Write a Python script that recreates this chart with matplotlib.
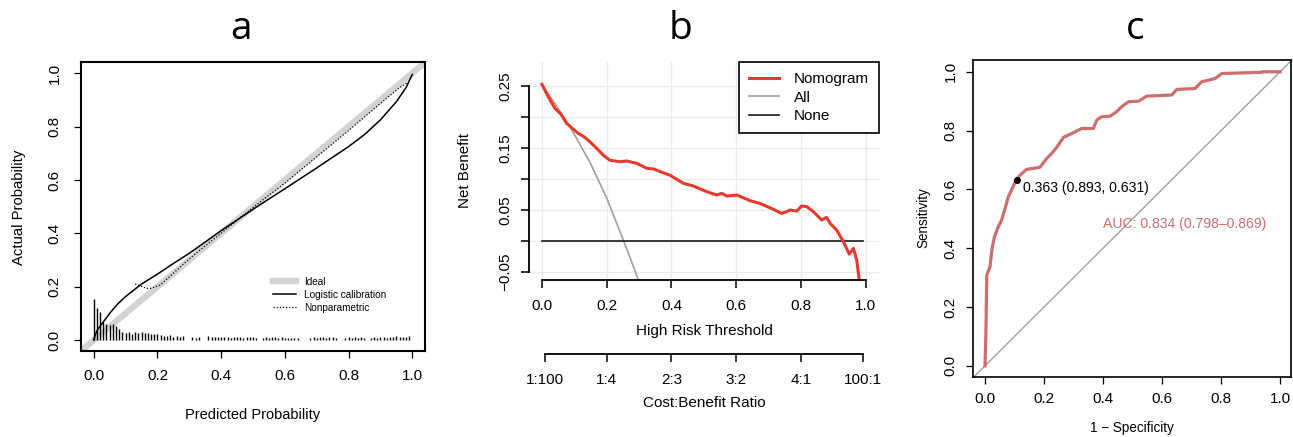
import matplotlib
matplotlib.use('Agg')
import matplotlib.pyplot as plt

### data
# a: calibration
logit_x = [0.0, 0.005, 0.01, 0.025, 0.05, 0.075, 0.1, 0.15, 0.2, 0.25, 0.3, 0.4, 0.5,
           0.6, 0.7, 0.8, 0.85, 0.9, 0.95, 0.98, 1.0]
logit_y = [0.0, 0.02, 0.035, 0.06, 0.1, 0.135, 0.163, 0.21, 0.247, 0.287, 0.325, 0.41, 0.49,
           0.567, 0.645, 0.725, 0.77, 0.825, 0.893, 0.945, 0.995]
nonpar_x = [0.13, 0.14, 0.166, 0.18, 0.208, 0.25, 0.29, 0.333, 0.386, 0.438, 0.5, 0.542,
            0.6, 0.699, 0.798, 0.898, 0.96, 0.986]
nonpar_y = [0.21, 0.206, 0.194, 0.194, 0.206, 0.25, 0.294, 0.337, 0.387, 0.437, 0.497, 0.536,
            0.588, 0.686, 0.783, 0.885, 0.946, 0.965]
hist_x = [i / 100 for i in range(100)]
hist_h = [0.153, 0.119, 0.106, 0.066, 0.059, 0.056, 0.059, 0.054, 0.041, 0.031,
          0.025, 0.031, 0.022, 0.031, 0.025, 0.031, 0.027, 0.025, 0.022, 0.022,
          0.022, 0.019, 0.017, 0.015, 0.019, 0.012, 0.015, 0.012, 0.015, 0.0,
          0.0, 0.010, 0.008, 0.010, 0.0, 0.0, 0.015, 0.012, 0.012, 0.010,
          0.012, 0.010, 0.012, 0.008, 0.010, 0.012, 0.010, 0.008, 0.010, 0.010,
          0.010, 0.008, 0.0, 0.008, 0.010, 0.008, 0.010, 0.012, 0.008, 0.010,
          0.008, 0.008, 0.006, 0.008, 0.006, 0.0, 0.0, 0.0, 0.008, 0.010,
          0.008, 0.012, 0.010, 0.008, 0.012, 0.010, 0.008, 0.0, 0.0, 0.008,
          0.010, 0.008, 0.012, 0.008, 0.010, 0.008, 0.0, 0.008, 0.010, 0.008,
          0.012, 0.010, 0.008, 0.012, 0.010, 0.015, 0.012, 0.012, 0.010, 0.015]

# b: decision curve
thr = [0.0, 0.02, 0.04, 0.058, 0.076, 0.095, 0.112, 0.13, 0.148, 0.168, 0.189, 0.21, 0.241,
       0.262, 0.293, 0.324, 0.345, 0.365, 0.395, 0.437, 0.468, 0.509, 0.540, 0.555, 0.571,
       0.602, 0.643, 0.673, 0.715, 0.740, 0.756, 0.766, 0.787, 0.802, 0.818, 0.838, 0.864,
       0.879, 0.89, 0.910, 0.931, 0.949, 0.962, 0.972, 0.980]
nb_nomo = [0.2527, 0.232, 0.214, 0.205, 0.190, 0.181, 0.1736, 0.168, 0.160, 0.150, 0.1385,
           0.130, 0.1277, 0.1288, 0.1251, 0.117, 0.116, 0.1117, 0.106, 0.0928, 0.0884, 0.0793,
           0.0739, 0.0766, 0.0723, 0.0739, 0.0647, 0.0604, 0.0507, 0.0443, 0.047, 0.0497,
           0.048, 0.0562, 0.0551, 0.047, 0.0335, 0.0379, 0.0282, 0.0174, -0.0015, -0.0215,
           -0.0123, -0.031, -0.063]
thr_all = [0.0, 0.05, 0.1, 0.15, 0.2, 0.25, 0.3]
nb_all = [0.253, 0.214, 0.172, 0.125, 0.069, 0.003, -0.066]
thr_none = [0.0, 0.99]
nb_none = [0.0, 0.0]
cb_pos = [0.01, 0.2, 0.4, 0.6, 0.8, 0.99]
cb_lab = ['1:100', '1:4', '2:3', '3:2', '4:1', '100:1']

# c: ROC
fpr = [0.0, 0.003, 0.006, 0.017, 0.023, 0.032, 0.045, 0.056, 0.068, 0.079, 0.09, 0.105,
       0.119, 0.141, 0.186, 0.209, 0.226, 0.243, 0.266, 0.288, 0.311, 0.328, 0.367, 0.379,
       0.395, 0.424, 0.446, 0.463, 0.486, 0.52, 0.548, 0.633, 0.65, 0.712, 0.734, 0.78,
       0.802, 0.932, 0.943, 1.0]
tpr = [0.0, 0.11, 0.308, 0.337, 0.393, 0.439, 0.473, 0.495, 0.535, 0.575, 0.598, 0.631,
       0.649, 0.668, 0.675, 0.705, 0.722, 0.743, 0.777, 0.787, 0.799, 0.807, 0.807, 0.836,
       0.847, 0.849, 0.864, 0.881, 0.898, 0.9, 0.917, 0.921, 0.94, 0.943, 0.966, 0.977,
       0.994, 0.998, 1.0, 1.0]
best_pt = (0.107, 0.631)
best_txt = '0.363 (0.893, 0.631)'
auc_txt = 'AUC: 0.834 (0.798\u20130.869)'

W, H = 1293, 437
def fx(px): return px / W
def fy(py): return 1 - py / H

plt.rcParams['font.family'] = ['Liberation Sans', 'DejaVu Sans']
fig = plt.figure(figsize=(W / 100, H / 100), dpi=100)

ticks01 = [0, 0.2, 0.4, 0.6, 0.8, 1.0]
labs01 = ['0.0', '0.2', '0.4', '0.6', '0.8', '1.0']

def rot_ylabels(ax):
    for t in ax.get_yticklabels():
        t.set_rotation(90)
        t.set_va('center')

### panel a
axa = fig.add_axes([fx(81), fy(351), (425 - 81) / W, (351 - 62) / H])
axa.axline((0, 0), (1, 1), color='#D3D3D3', lw=4.6, label='Ideal')
axa.plot(logit_x, logit_y, color='black', lw=1.1, label='Logistic calibration')
axa.plot(nonpar_x, nonpar_y, color='black', lw=0.9, ls=(0, (1, 1.5)), label='Nonparametric')
axa.vlines(hist_x, 0, hist_h, color='black', lw=1.0)
axa.set_xlim(-0.04, 1.04)
axa.set_ylim(-0.041, 1.042)
axa.set_xticks(ticks01, labs01)
axa.set_yticks(ticks01, labs01)
axa.tick_params(axis='both', labelsize=11, length=5, width=0.9)
axa.tick_params(axis='x', pad=8)
axa.tick_params(axis='y', pad=9)
rot_ylabels(axa)
for s in axa.spines.values():
    s.set_linewidth(1.5)
axa.legend(loc='upper left', bbox_to_anchor=(0.545, 0.275), frameon=False, fontsize=7.2,
           handlelength=2.3, handletextpad=0.8, labelspacing=0.3, borderpad=0)

### panel b
axb = fig.add_axes([fx(529), fy(280), (878.7 - 529) / W, (280 - 62) / H])
axb.grid(True, color='#EBEBEB', lw=1)
axb.set_axisbelow(True)
axb.plot(thr_all, nb_all, color='#A0A0A0', lw=1.2, label='All')
axb.plot(thr_none, nb_none, color='#1A1A1A', lw=1.2, label='None')
axb.plot(thr, nb_nomo, color='#E8392E', lw=2.2, label='Nomogram')
axb.set_xlim(-0.04, 1.04)
axb.set_ylim(-0.0634, 0.2888)
axb.set_xticks(ticks01, labs01)
axb.set_yticks([-0.05, 0, 0.05, 0.1, 0.15, 0.2, 0.25],
               ['\u22120.05', '', '0.05', '', '0.15', '', '0.25'])
for s in ['top', 'right']:
    axb.spines[s].set_visible(False)
axb.spines['left'].set_bounds(-0.05, 0.25)
axb.spines['bottom'].set_bounds(0, 1)
axb.spines['left'].set_linewidth(1.3)
axb.spines['bottom'].set_linewidth(1.3)
axb.tick_params(axis='both', labelsize=11, length=6, width=1.1)
axb.tick_params(axis='x', pad=8)
axb.tick_params(axis='y', pad=6)
rot_ylabels(axb)
h, l = axb.get_legend_handles_labels()
order = [2, 0, 1]
leg = axb.legend([h[i] for i in order], [l[i] for i in order], loc='upper right',
                 bbox_to_anchor=(1, 1), borderaxespad=0, fontsize=11, fancybox=False,
                 edgecolor='black', framealpha=1, handlelength=2.0, handletextpad=0.95,
                 labelspacing=0.3, borderpad=0.65)
leg.get_frame().set_linewidth(1.2)

axb2 = fig.add_axes([fx(529), fy(354), (878.7 - 529) / W, 0.001])
axb2.set_xlim(-0.04, 1.04)
axb2.set_yticks([])
for s in ['top', 'right', 'left']:
    axb2.spines[s].set_visible(False)
axb2.spines['bottom'].set_bounds(cb_pos[0], cb_pos[-1])
axb2.spines['bottom'].set_linewidth(1.3)
axb2.patch.set_visible(False)
axb2.set_xticks(cb_pos, cb_lab)
axb2.tick_params(axis='x', labelsize=11, length=6, width=1.1, pad=8)

### panel c
roc_col = '#CD6F6F'
axc = fig.add_axes([fx(973), fy(377), (1291 - 973) / W, (377 - 60) / H])
axc.axline((0, 0), (1, 1), color='#A0A0A0', lw=1)
axc.plot(fpr, tpr, color=roc_col, lw=2.3)
axc.plot([best_pt[0]], [best_pt[1]], 'o', color='black', ms=4)
axc.text(0.128, 0.604, best_txt, fontsize=10.1, ha='left', va='center')
axc.text(0.399, 0.482, auc_txt, fontsize=10.1, ha='left', va='center', color=roc_col)
axc.set_xlim(-0.0407, 1.037)
axc.set_ylim(-0.038, 1.04)
axc.set_xticks(ticks01, labs01)
axc.set_yticks(ticks01, labs01)
axc.tick_params(axis='both', labelsize=11, length=5, width=0.9)
axc.tick_params(axis='x', pad=6)
axc.tick_params(axis='y', pad=6)
rot_ylabels(axc)
for s in axc.spines.values():
    s.set_linewidth(1.2)

### titles and axis labels
for txt, x in [('a', 241), ('b', 681), ('c', 1135)]:
    fig.text(fx(x), fy(39), txt, fontsize=28, ha='center', va='baseline', family='Open Sans')
fig.text(fx(19), fy(207), 'Actual Probability', rotation=90, fontsize=10.7, ha='center', va='center')
fig.text(fx(253), fy(415), 'Predicted Probability', fontsize=10.5, ha='center', va='center')
fig.text(fx(465), fy(170), 'Net Benefit', rotation=90, fontsize=10.9, ha='center', va='center')
fig.text(fx(704), fy(331), 'High Risk Threshold', fontsize=11, ha='center', va='center')
fig.text(fx(704), fy(403), 'Cost:Benefit Ratio', fontsize=11, ha='center', va='center')
fig.text(fx(923), fy(218), 'Sensitivity', rotation=90, fontsize=9.75, ha='center', va='center')
fig.text(fx(1132), fy(428), '1 \u2212 Specificity', fontsize=9.75, ha='center', va='center')

fig.savefig('out.png', dpi=100)
